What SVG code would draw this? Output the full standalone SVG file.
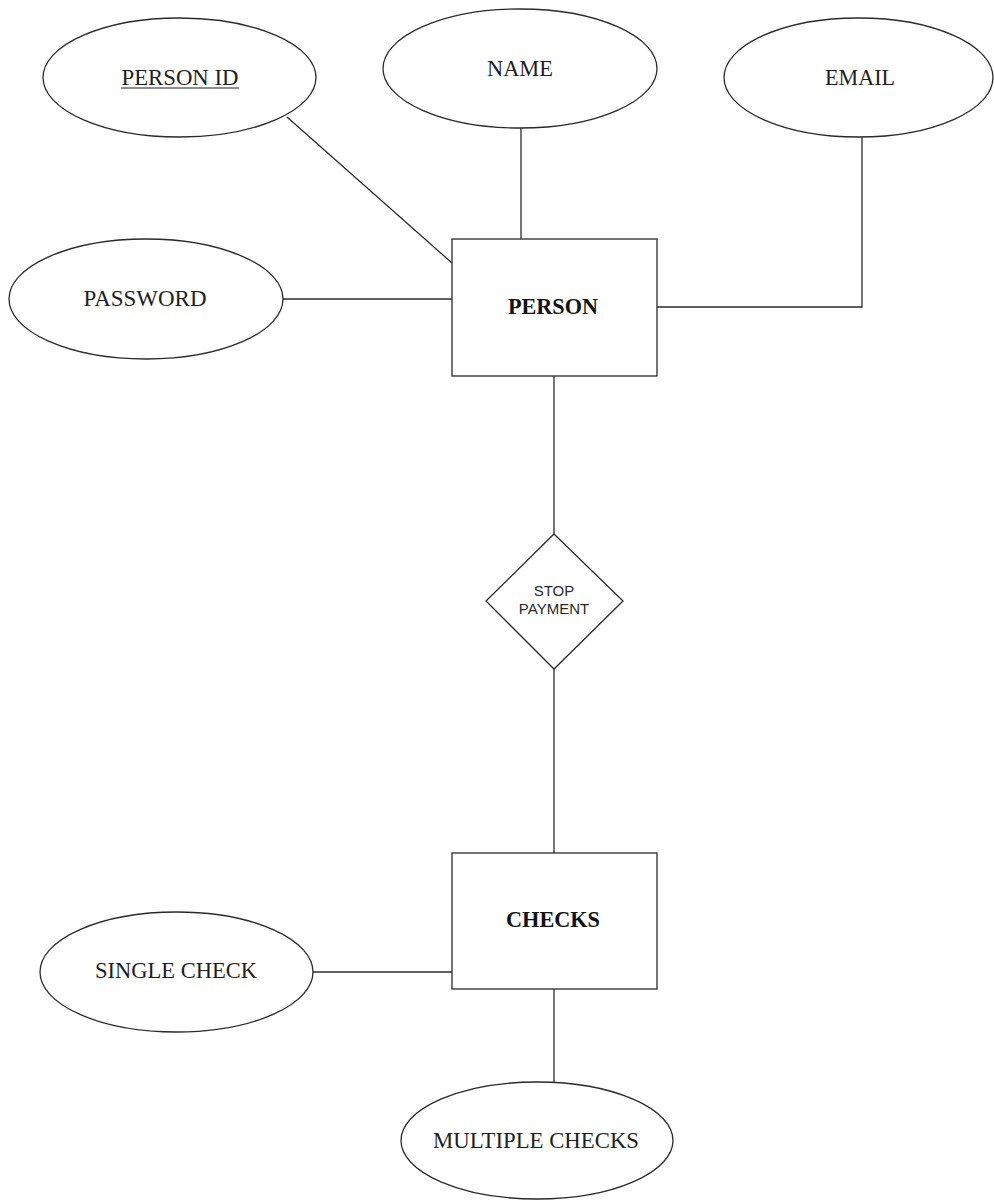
<svg xmlns="http://www.w3.org/2000/svg" width="994" height="1201" viewBox="0 0 994 1201">
  <style>
    .shape { fill: #ffffff; stroke: #2a2a2a; stroke-width: 1.3; }
    .link { fill: none; stroke: #2a2a2a; stroke-width: 1.3; }
    .attr { font-family: "Liberation Serif", "Times New Roman", serif; font-size: 24px; fill: #1e1e1e; text-anchor: middle; }
    .entity { font-family: "Liberation Serif", "Times New Roman", serif; font-size: 24px; font-weight: bold; fill: #111111; text-anchor: middle; }
    .rel { font-family: "Liberation Sans", Arial, sans-serif; font-size: 15px; fill: #2a2a2a; text-anchor: middle; }
  </style>
  <rect x="0" y="0" width="994" height="1201" fill="#ffffff"/>

  <g id="connectors">
    <line class="link" x1="287" y1="117" x2="452" y2="263"/>
    <line class="link" x1="521" y1="128" x2="521" y2="239"/>
    <polyline class="link" points="862,137 862,307 657,307"/>
    <line class="link" x1="283" y1="299" x2="452" y2="299"/>
    <line class="link" x1="554" y1="376" x2="554" y2="534"/>
    <line class="link" x1="554" y1="669" x2="554" y2="853"/>
    <line class="link" x1="313" y1="972" x2="452" y2="972"/>
    <line class="link" x1="554" y1="989" x2="554" y2="1082"/>
  </g>

  <g id="person-id">
    <ellipse class="shape" cx="179.5" cy="77.5" rx="136.5" ry="59.5"/>
    <text class="attr" x="180" y="85" textLength="117" lengthAdjust="spacingAndGlyphs">PERSON ID</text>
    <line x1="121" y1="88" x2="239" y2="88" stroke="#1e1e1e" stroke-width="1.2"/>
  </g>

  <g id="name">
    <ellipse class="shape" cx="520" cy="68.5" rx="137" ry="59.5"/>
    <text class="attr" x="520" y="76" textLength="66" lengthAdjust="spacingAndGlyphs">NAME</text>
  </g>

  <g id="email">
    <ellipse class="shape" cx="858.5" cy="77.5" rx="134.5" ry="59.5"/>
    <text class="attr" x="860" y="85" textLength="70" lengthAdjust="spacingAndGlyphs">EMAIL</text>
  </g>

  <g id="password">
    <ellipse class="shape" cx="146" cy="299" rx="137" ry="60"/>
    <text class="attr" x="145" y="306" textLength="123" lengthAdjust="spacingAndGlyphs">PASSWORD</text>
  </g>

  <g id="person">
    <rect class="shape" x="452" y="239" width="205" height="137"/>
    <text class="entity" x="553" y="314" textLength="90" lengthAdjust="spacingAndGlyphs">PERSON</text>
  </g>

  <g id="stop-payment">
    <polygon class="shape" points="554,534 623,601 554,669 486,601"/>
    <text class="rel" x="554" y="596">STOP</text>
    <text class="rel" x="554" y="614">PAYMENT</text>
  </g>

  <g id="checks">
    <rect class="shape" x="452" y="853" width="205" height="136"/>
    <text class="entity" x="553" y="927" textLength="94" lengthAdjust="spacingAndGlyphs">CHECKS</text>
  </g>

  <g id="single-check">
    <ellipse class="shape" cx="176.5" cy="972" rx="136.5" ry="60"/>
    <text class="attr" x="176" y="978" textLength="162" lengthAdjust="spacingAndGlyphs">SINGLE CHECK</text>
  </g>

  <g id="multiple-checks">
    <ellipse class="shape" cx="537" cy="1140.5" rx="136" ry="58.5"/>
    <text class="attr" x="536" y="1148" textLength="206" lengthAdjust="spacingAndGlyphs">MULTIPLE CHECKS</text>
  </g>
</svg>
